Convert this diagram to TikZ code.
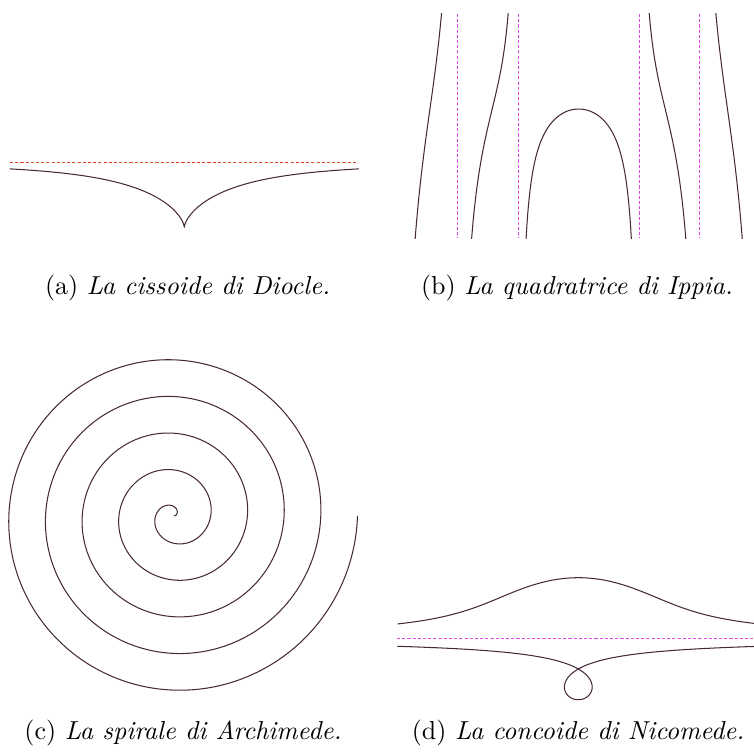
\documentclass[tikz,border=0pt]{standalone}
\usetikzlibrary{calc}
\definecolor{curvecol}{RGB}{70,40,60}
\definecolor{asyred}{RGB}{225,70,40}
\definecolor{asymag}{RGB}{225,70,225}
\begin{document}
\begin{tikzpicture}[x=0.385pt,y=-0.385pt,
  curve/.style={curvecol,line width=0.4pt,line join=round},
  asyline/.style={line width=0.4pt,dash pattern=on 1.2pt off 0.8pt},
  capt/.style={anchor=base,inner sep=0pt,font=\normalsize}]
\useasboundingbox (0,0) rectangle (754,751);
% (a) cissoide
\draw[asyline,asyred] (10,162.3) -- (358,162.3);
\draw[curve] plot[domain=-71.5:71.5,samples=300,smooth]
  ({184.3+65*sin(\x)^3/cos(\x)},{227.3-65*sin(\x)^2});
% (b) quadratrice
\foreach \xa in {457.9,518.2,639.2,699.5}
  \draw[asyline,asymag] (\xa,14) -- (\xa,238);
\begin{scope}
\clip (380,14) rectangle (754,238);
\draw[curve] plot[domain=-158:158,samples=200,smooth]
  ({578.7+\x/180*60.5},{126.8-0.922*(\x/180*60.5)*cot(\x)});
\draw[curve] plot[domain=208:319.5,samples=150,smooth]
  ({578.7+\x/180*60.5},{126.8-0.922*(\x/180*60.5)*cot(\x)});
\draw[curve] plot[domain=-319.5:-208,samples=150,smooth]
  ({578.7+\x/180*60.5},{126.8-0.922*(\x/180*60.5)*cot(\x)});
\draw[curve] plot[domain=407:487.5,samples=150,smooth]
  ({578.7+\x/180*60.5},{126.8-0.922*(\x/180*60.5)*cot(\x)});
\draw[curve] plot[domain=-487.5:-407,samples=150,smooth]
  ({578.7+\x/180*60.5},{126.8-0.922*(\x/180*60.5)*cot(\x)});
\end{scope}
% (c) spirale
\draw[curve] plot[domain=0:1800,samples=900,smooth]
  ({174+0.10194*\x*cos(\x)},{515.8-0.10194*\x*sin(\x)});
% (d) concoide
\draw[asyline,asymag] (397,638.7) -- (760,638.7);
\draw[curve] plot[domain=-76:76,samples=300,smooth]
  ({578.3+30.3*tan(\x)+61*sin(\x)},{669-30.3-61*cos(\x)});
\draw[curve] plot[domain=-82.85:82.85,samples=400,smooth]
  ({578.3+30.3*tan(\x)-61*sin(\x)},{669-30.3+61*cos(\x)});
% captions
\node[capt] (capA) at (187.5,294.3) {(a) \textit{La cissoide di Diocle.}};
\node[capt] (capB) at (577,294.3) {(b) \textit{La quadratrice di Ippia.}};
\node[capt] (capC) at (183,739) {(c) \textit{La spirale di Archimede.}};
\node[capt] (capD) at (578,739) {(d) \textit{La concoide di Nicomede.}};
\end{tikzpicture}
\end{document}
